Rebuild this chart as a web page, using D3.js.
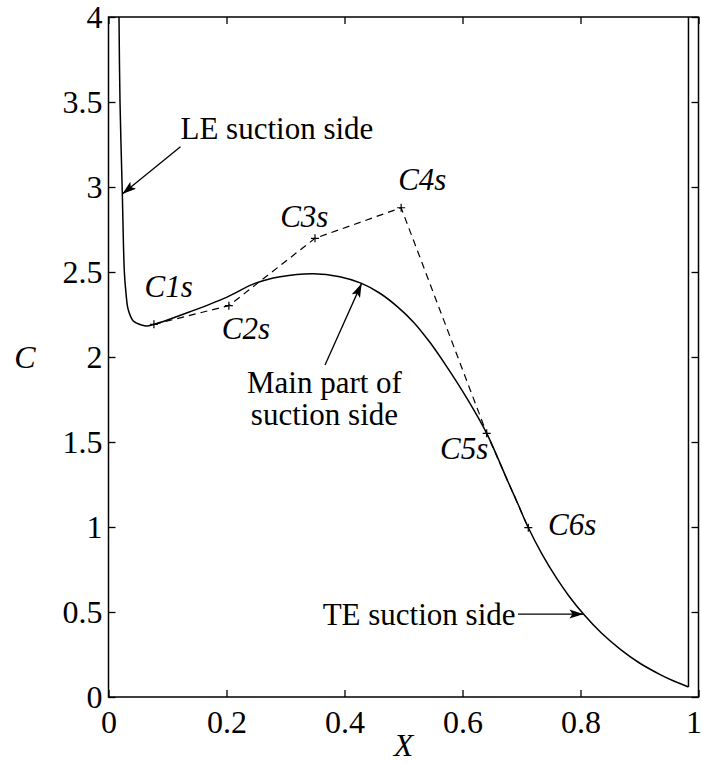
<!DOCTYPE html>
<html>
<head>
<meta charset="utf-8">
<script src="https://cdn.jsdelivr.net/npm/d3@7"></script>
<style>
  body { margin: 0; background: #fff; }
  text { font-family: "Liberation Serif", "DejaVu Serif", serif; fill: #000; }
</style>
</head>
<body>
<div id="chart"></div>
<script>
// suction side curve
const curveX = [0.0178, 0.0195, 0.0234, 0.0268, 0.0295, 0.0336, 0.042, 0.0563, 0.0647, 0.0776,
  0.138, 0.2, 0.248, 0.291, 0.347, 0.392, 0.429, 0.46, 0.49, 0.517, 0.545, 0.573, 0.607,
  0.641, 0.676, 0.694, 0.711, 0.735, 0.76, 0.78, 0.805, 0.835, 0.867, 0.9, 0.935, 0.96, 0.983, 0.983]
const curveC = [4.0, 3.5, 2.965, 2.506, 2.38, 2.276, 2.212, 2.188, 2.182, 2.192,
  2.266, 2.351, 2.433, 2.472, 2.49, 2.472, 2.433, 2.375, 2.295, 2.205, 2.085, 1.945, 1.76,
  1.551, 1.275, 1.135, 1.0, 0.839, 0.696, 0.596, 0.488, 0.378, 0.282, 0.2, 0.132, 0.091, 0.059, 4.0]

// control points
const ctrlNames = ['C1s', 'C2s', 'C3s', 'C4s', 'C5s', 'C6s']
const ctrlX = [0.077, 0.204, 0.350, 0.496, 0.641, 0.7115]
const ctrlC = [2.192, 2.302, 2.698, 2.878, 1.551, 0.996]

const xTicks = [0, 0.2, 0.4, 0.6, 0.8, 1]
const xTickLabels = ['0', '0.2', '0.4', '0.6', '0.8', '1']
const yTicks = [0, 0.5, 1, 1.5, 2, 2.5, 3, 3.5, 4]
const yTickLabels = ['0', '0.5', '1', '1.5', '2', '2.5', '3', '3.5', '4']

const width = 702
const height = 764
const margin = ({ top: 17, right: 3.5, bottom: 67, left: 108.5 })

const x = d3.scaleLinear().domain([0, 1]).range([margin.left, width - margin.right])
const y = d3.scaleLinear().domain([0, 4]).range([height - margin.bottom, margin.top])

const svg = d3.select('#chart').append('svg')
  .attr('width', width)
  .attr('height', height)

// arrow head
svg.append('defs').append('marker')
  .attr('id', 'head')
  .attr('viewBox', '0 -6 14 12')
  .attr('refX', 14).attr('refY', 0)
  .attr('markerWidth', 14).attr('markerHeight', 12)
  .attr('markerUnits', 'userSpaceOnUse')
  .attr('orient', 'auto')
  .append('path')
  .attr('d', 'M0,-4.5L14,0L0,4.5L3,0Z')
  .attr('fill', '#000')

const clip = svg.append('defs').append('clipPath').attr('id', 'plotclip')
clip.append('rect')
  .attr('x', x(0)).attr('y', y(4))
  .attr('width', x(1) - x(0)).attr('height', y(0) - y(4))

// axes, ticks inward on all four sides
const fmt = (labels) => (d, i) => labels[i]
const xAxisG = svg.append('g')
  .attr('transform', `translate(0,${y(0)})`)
  .call(d3.axisBottom(x).tickValues(xTicks).tickFormat(fmt(xTickLabels)).tickSizeInner(-7).tickSizeOuter(0).tickPadding(13))
svg.append('g')
  .attr('transform', `translate(0,${y(4)})`)
  .call(d3.axisTop(x).tickValues(xTicks).tickFormat('').tickSizeInner(-7).tickSizeOuter(0))
svg.append('g')
  .attr('transform', `translate(${x(0)},0)`)
  .call(d3.axisLeft(y).tickValues(yTicks).tickFormat(fmt(yTickLabels)).tickSizeInner(-7).tickSizeOuter(0).tickPadding(6))
svg.append('g')
  .attr('transform', `translate(${x(1)},0)`)
  .call(d3.axisRight(y).tickValues(yTicks).tickFormat('').tickSizeInner(-7).tickSizeOuter(0))

svg.selectAll('.domain').remove()
svg.selectAll('.tick line').attr('stroke', '#000').attr('stroke-width', 1.3)
svg.selectAll('.tick text')
  .style('font-family', '"Liberation Serif", serif')
  .style('font-size', '32px')
  .attr('fill', '#000')
// the "1" at the right edge would be clipped, nudge it in
xAxisG.selectAll('.tick text').filter(d => d === 1).attr('text-anchor', 'end').attr('x', 3)

svg.append('rect')
  .attr('x', x(0)).attr('y', y(4))
  .attr('width', x(1) - x(0)).attr('height', y(0) - y(4))
  .attr('fill', 'none').attr('stroke', '#000').attr('stroke-width', 1.5)

const plot = svg.append('g').attr('clip-path', 'url(#plotclip)')

const n = curveX.length
plot.append('path')
  .datum(curveX.slice(0, -1).map((v, i) => [v, curveC[i]]))
  .attr('d', d3.line().x(d => x(d[0])).y(d => y(d[1])).curve(d3.curveCatmullRom.alpha(0.5)))
  .attr('fill', 'none').attr('stroke', '#000').attr('stroke-width', 1.5)

// vertical end line
plot.append('path')
  .datum([[curveX[n - 2], curveC[n - 2]], [curveX[n - 1], curveC[n - 1]]])
  .attr('d', d3.line().x(d => x(d[0])).y(d => y(d[1])))
  .attr('fill', 'none').attr('stroke', '#000').attr('stroke-width', 1.5)

// control polygon
plot.append('path')
  .datum(ctrlX.map((v, i) => [v, ctrlC[i]]))
  .attr('d', d3.line().x(d => x(d[0])).y(d => y(d[1])))
  .attr('fill', 'none').attr('stroke', '#000').attr('stroke-width', 1.2)
  .attr('stroke-dasharray', '7,5')

plot.selectAll('.cross')
  .data(ctrlX.map((v, i) => [v, ctrlC[i]]))
  .enter().append('path')
  .attr('d', d => `M${x(d[0]) - 4},${y(d[1])}h8M${x(d[0])},${y(d[1]) - 4}v8`)
  .attr('stroke', '#000').attr('stroke-width', 1.2)

// control point labels
const ctrlLabelX = [0.061, 0.192, 0.291, 0.491, 0.562, 0.745]
const ctrlLabelC = [2.355, 2.104, 2.766, 2.982, 1.40, 0.953]
svg.selectAll('.clabel')
  .data(ctrlNames)
  .enter().append('text')
  .attr('x', (d, i) => x(ctrlLabelX[i]))
  .attr('y', (d, i) => y(ctrlLabelC[i]))
  .style('font-size', '31px')
  .style('font-style', 'italic')
  .text(d => d)

// annotations
const notes = [
  { lines: ['LE suction side'], x: 0.122, c: 3.28, anchor: 'start', from: [0.122, 3.237], to: [0.0234, 2.959] },
  { lines: ['Main part of', 'suction side'], x: 0.366, c: 1.786, anchor: 'middle', from: [0.367, 1.953], to: [0.429, 2.433] },
  { lines: ['TE suction side'], x: 0.363, c: 0.424, anchor: 'start', from: [0.694, 0.488], to: [0.805, 0.488] }
]

notes.forEach(nt => {
  const t = svg.append('text')
    .attr('x', x(nt.x)).attr('y', y(nt.c))
    .attr('text-anchor', nt.anchor)
    .style('font-size', '31px')
  nt.lines.forEach((s, i) => {
    t.append('tspan').attr('x', x(nt.x)).attr('dy', i ? 32 : 0).text(s)
  })
  svg.append('line')
    .attr('x1', x(nt.from[0])).attr('y1', y(nt.from[1]))
    .attr('x2', x(nt.to[0])).attr('y2', y(nt.to[1]))
    .attr('stroke', '#000').attr('stroke-width', 1.3)
    .attr('marker-end', 'url(#head)')
})

// axis labels
svg.append('text')
  .attr('x', (x(0) + x(1)) / 2).attr('y', 756)
  .attr('text-anchor', 'middle')
  .style('font-size', '32px').style('font-style', 'italic')
  .text('X')
svg.append('text')
  .attr('x', 25).attr('y', 368)
  .attr('text-anchor', 'middle')
  .style('font-size', '32px').style('font-style', 'italic')
  .text('C')
</script>
</body>
</html>
